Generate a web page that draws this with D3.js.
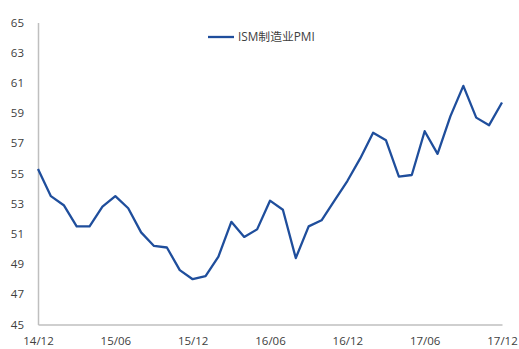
<!DOCTYPE html>
<html>
<head>
<meta charset="utf-8">
<script src="https://cdn.jsdelivr.net/npm/d3@7"></script>
<style>
  body { margin: 0; background: #fff; }
  svg text { font-family: "Open Sans", "Noto Sans CJK SC", sans-serif; fill: #404040; }
</style>
</head>
<body>
<svg id="chart" width="519" height="349"></svg>
<script>
const months = ['14/12','15/01','15/02','15/03','15/04','15/05','15/06','15/07','15/08','15/09','15/10','15/11',
  '15/12','16/01','16/02','16/03','16/04','16/05','16/06','16/07','16/08','16/09','16/10','16/11',
  '16/12','17/01','17/02','17/03','17/04','17/05','17/06','17/07','17/08','17/09','17/10','17/11','17/12'];
const pmi = [55.3, 53.5, 52.9, 51.5, 51.5, 52.8, 53.5, 52.7, 51.1, 50.2, 50.1, 48.6,
  48.0, 48.2, 49.5, 51.8, 50.8, 51.3, 53.2, 52.6, 49.4, 51.5, 51.9, 53.2,
  54.5, 56.0, 57.7, 57.2, 54.8, 54.9, 57.8, 56.3, 58.8, 60.8, 58.7, 58.2, 59.7];
const yTicks = [45, 47, 49, 51, 53, 55, 57, 59, 61, 63, 65];
const xTicks = ['14/12', '15/06', '15/12', '16/06', '16/12', '17/06', '17/12'];
const seriesName = 'ISM制造业PMI';

const svg = d3.select('#chart');
const lineColor = '#1f4e9c';
const axisColor = '#bfbfbf';

const x = d3.scalePoint().domain(months).range([38, 502]);
const y = d3.scaleLinear().domain([45, 65]).range([324.5, 22.5]);

// y axis
const yAxis = svg.append('g')
  .attr('transform', 'translate(38,0)')
  .call(d3.axisLeft(y).tickValues(yTicks).tickSize(0).tickPadding(14));
yAxis.select('.domain').attr('stroke', axisColor).attr('stroke-width', 1.5);
yAxis.selectAll('text').style('font-size', '11.5px').attr('fill', '#404040');

// x axis
const xAxis = svg.append('g')
  .attr('transform', `translate(0,${y(45)})`)
  .call(d3.axisBottom(x).tickValues(xTicks).tickSize(0).tickPadding(12));
xAxis.select('.domain').attr('stroke', axisColor).attr('stroke-width', 1.5);
xAxis.selectAll('text').style('font-size', '11.5px').attr('fill', '#404040');

// series
const line = d3.line()
  .x((d, i) => x(months[i]))
  .y(d => y(d));
svg.append('path')
  .datum(pmi)
  .attr('fill', 'none')
  .attr('stroke', lineColor)
  .attr('stroke-width', 2.3)
  .attr('stroke-linejoin', 'round')
  .attr('d', line);

// legend
const lg = svg.append('g').attr('transform', 'translate(208,37)');
lg.append('line').attr('x1', 0).attr('x2', 26).attr('y1', 0).attr('y2', 0)
  .attr('stroke', lineColor).attr('stroke-width', 2.3);
lg.append('text').attr('x', 30).attr('y', 4)
  .style('font-size', '11.8px')
  .text(seriesName);
</script>
</body>
</html>
